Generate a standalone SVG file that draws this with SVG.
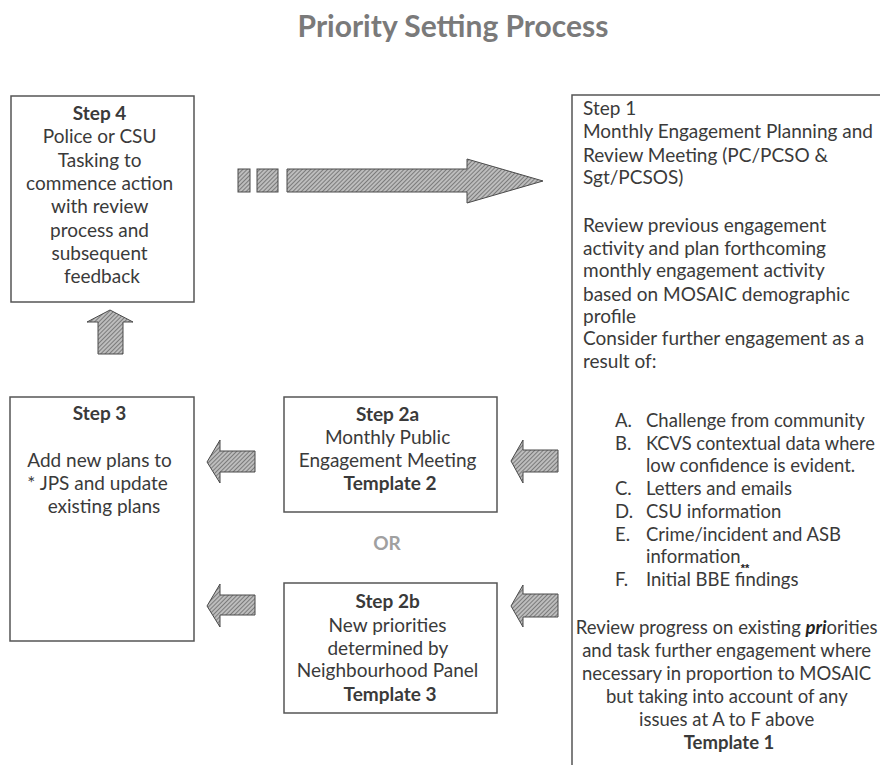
<svg xmlns="http://www.w3.org/2000/svg" width="880" height="765" viewBox="0 0 880 765">
<defs>
<pattern id="hatch" width="3" height="3" patternUnits="userSpaceOnUse" patternTransform="rotate(45)">
<rect width="3" height="3" fill="#bdbdbd"/>
<line x1="0" y1="0" x2="0" y2="3" stroke="#5e5e5e" stroke-width="1.4"/>
</pattern>
<style>
.box{fill:#fff;stroke:#555;stroke-width:1.5}
.t{font-family:Lato,"Open Sans","Liberation Sans",sans-serif;font-size:19px;fill:#3a3a3a}
.s{font-size:18.5px}
.c{text-anchor:middle}
.b{font-weight:bold}
.arr{fill:url(#hatch);stroke:#4a4a4a;stroke-width:1}
</style>
</defs>
<rect width="880" height="765" fill="#fff"/>
<text x="453" y="37" text-anchor="middle" font-weight="bold" font-family="Lato,'Open Sans','Liberation Sans',sans-serif" font-size="30" fill="#7a7a7a">Priority Setting Process</text>

<g id="step4">
<rect class="box" x="11" y="96" width="183" height="206"/>
<text class="t c">
<tspan class="b" x="102" y="120">Step 4</tspan>
<tspan x="102" y="143">Police or CSU</tspan>
<tspan x="102" y="167">Tasking to</tspan>
<tspan x="102" y="190">commence action</tspan>
<tspan x="102" y="213">with review</tspan>
<tspan x="102" y="237">process and</tspan>
<tspan x="102" y="260">subsequent</tspan>
<tspan x="102" y="283">feedback</tspan>
</text>
</g>

<g id="step1">
<path d="M572,765 V95 H880" fill="none" stroke="#555" stroke-width="1.5"/>
<text class="t">
<tspan x="583" y="115">Step 1</tspan>
<tspan x="583" y="138">Monthly Engagement Planning and</tspan>
<tspan x="583" y="162">Review Meeting (PC/PCSO &amp;</tspan>
<tspan x="583" y="184">Sgt/PCSOS)</tspan>
<tspan x="583" y="232">Review previous engagement</tspan>
<tspan x="583" y="255">activity and plan forthcoming</tspan>
<tspan x="583" y="277">monthly engagement activity</tspan>
<tspan x="583" y="301">based on MOSAIC demographic</tspan>
<tspan x="583" y="323">profile</tspan>
<tspan x="583" y="345">Consider further engagement as a</tspan>
<tspan x="583" y="368">result of:</tspan>
</text>
<text class="t s">
<tspan x="615" y="427">A.</tspan><tspan x="646" y="427">Challenge from community</tspan>
<tspan x="615" y="450">B.</tspan><tspan x="646" y="450" textLength="229" lengthAdjust="spacingAndGlyphs">KCVS contextual data where</tspan>
<tspan x="646" y="472">low confidence is evident.</tspan>
<tspan x="615" y="495">C.</tspan><tspan x="646" y="495">Letters and emails</tspan>
<tspan x="615" y="518">D.</tspan><tspan x="646" y="518">CSU information</tspan>
<tspan x="615" y="541">E.</tspan><tspan x="646" y="541">Crime/incident and ASB</tspan>
<tspan x="646" y="563">information</tspan>
<tspan x="615" y="586">F.</tspan><tspan x="646" y="586">Initial BBE findings</tspan>
</text>
<text x="745" y="572" font-family="'Liberation Sans',sans-serif" font-size="11" font-weight="bold" fill="#222" text-anchor="middle">**</text>
<text class="t s c">
<tspan x="729" y="634">Review progress on existing <tspan font-style="italic" font-weight="bold" fill="#222">pri</tspan>orities</tspan>
<tspan x="729" y="657">and task further engagement where</tspan>
<tspan x="729" y="680">necessary in proportion to MOSAIC</tspan>
<tspan x="729" y="703">but taking into account of any</tspan>
<tspan x="729" y="726">issues at A to F above</tspan>
<tspan class="b" x="729" y="749">Template 1</tspan>
</text>
</g>

<g id="step3">
<rect class="box" x="10" y="397" width="184" height="244"/>
<text class="t c">
<tspan class="b" x="102" y="420">Step 3</tspan>
<tspan x="102" y="467">Add new plans to</tspan>
<tspan x="100" y="490">* JPS and update</tspan>
<tspan x="104" y="513">existing plans</tspan>
</text>
</g>

<g id="step2a">
<rect class="box" x="284" y="397" width="213" height="115"/>
<text class="t c">
<tspan class="b" x="390" y="421">Step 2a</tspan>
<tspan x="390" y="444">Monthly Public</tspan>
<tspan x="390" y="467">Engagement Meeting</tspan>
<tspan class="b" x="390" y="490">Template 2</tspan>
</text>
</g>

<g id="or">
<text x="387" y="550" text-anchor="middle" font-family="Lato,'Liberation Sans',sans-serif" font-size="19" font-weight="bold" fill="#a0a0a0">OR</text>
</g>

<g id="step2b">
<rect class="box" x="284" y="583" width="213" height="130"/>
<text class="t c">
<tspan class="b" x="390" y="608">Step 2b</tspan>
<tspan x="390" y="632">New priorities</tspan>
<tspan x="390" y="655">determined by</tspan>
<tspan x="390" y="677">Neighbourhood Panel</tspan>
<tspan class="b" x="390" y="701">Template 3</tspan>
</text>
</g>

<g id="connectors">
<rect class="arr" x="238" y="169" width="12" height="23"/>
<rect class="arr" x="257" y="169" width="21" height="23"/>
<path class="arr" d="M287,169 H467 V159 L543,181 L467,203 V192 H287 Z"/>
<path class="arr" d="M98,354 V322 H87 L110,310 L133,322 H123 V354 Z"/>
<path class="arr" d="M255,451 H220 V440 L207,462 L220,483 V472 H255 Z"/>
<path class="arr" d="M255,595 H220 V584 L207,606 L220,627 V615 H255 Z"/>
<path class="arr" d="M558,450 H523 V440 L511,461 L523,483 V472 H558 Z"/>
<path class="arr" d="M558,594 H523 V585 L511,606 L523,627 V617 H558 Z"/>
</g>
</svg>
